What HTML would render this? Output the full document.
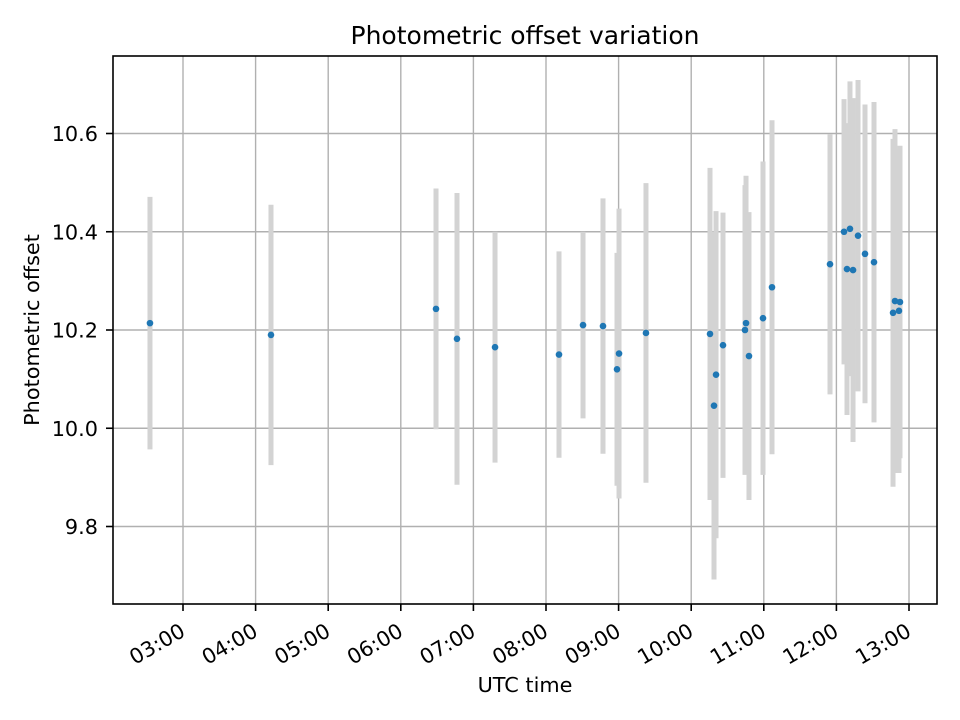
<!DOCTYPE html>
<html><head><meta charset="utf-8"><style>
body{margin:0;background:#fff;}
svg{display:block;font-family:"DejaVu Sans","Liberation Sans",sans-serif;}
</style></head><body>
<svg id="chart" width="960" height="720" viewBox="0 0 960 720" xmlns="http://www.w3.org/2000/svg">
<rect x="0" y="0" width="960" height="720" fill="#fff"/>
<text x="525" y="44" font-size="25" text-anchor="middle">Photometric offset variation</text>
<text x="525" y="692" font-size="20.8" text-anchor="middle">UTC time</text>
<text x="0" y="0" font-size="20.8" text-anchor="middle" transform="translate(39,330) rotate(-90)">Photometric offset</text>
<g id="grid"></g><g id="errs"></g><g id="pts"></g><g id="axes"></g>
</svg>
<script>
const times = [2.545,4.212,6.485,6.774,7.298,8.179,8.51,8.785,8.978,9.006,9.377,10.259,10.314,10.342,10.438,10.741,10.755,10.796,10.989,11.113,11.912,12.105,12.146,12.187,12.229,12.298,12.394,12.518,12.78,12.807,12.862,12.876];
const offsets = [10.214,10.19,10.243,10.182,10.165,10.15,10.21,10.208,10.12,10.152,10.194,10.192,10.046,10.109,10.169,10.2,10.214,10.147,10.224,10.287,10.334,10.4,10.324,10.406,10.322,10.392,10.355,10.338,10.235,10.259,10.239,10.257];
const errors = [0.257,0.265,0.245,0.297,0.235,0.21,0.19,0.26,0.237,0.295,0.305,0.338,0.354,0.333,0.27,0.295,0.3,0.293,0.319,0.34,0.265,0.27,0.297,0.3,0.35,0.317,0.304,0.326,0.354,0.35,0.33,0.318];
const xTickHours = [3,4,5,6,7,8,9,10,11,12,13];
const xTickLabels = ["03:00","04:00","05:00","06:00","07:00","08:00","09:00","10:00","11:00","12:00","13:00"];
const yTicks = [9.8,10.0,10.2,10.4,10.6];
const yTickLabels = ["9.8","10.0","10.2","10.4","10.6"];

const L=113,R=937,T=56,B=604;
const xs=h=>183+(h-3)*72.6;
const ys=v=>330-(v-10.2)*491.25;
const NS="http://www.w3.org/2000/svg";
function mk(tag,attrs,parent,txt){const e=document.createElementNS(NS,tag);for(const k in attrs)e.setAttribute(k,attrs[k]);if(txt!==undefined)e.textContent=txt;parent.appendChild(e);return e;}
const grid=document.getElementById('grid'),errs=document.getElementById('errs'),pts=document.getElementById('pts'),axes=document.getElementById('axes');
xTickHours.forEach((h,i)=>{
  const x=xs(h);
  const g=mk('line',{x1:x,x2:x,y1:T,y2:B,stroke:'#b0b0b0','stroke-width':1.4},grid);
  
  
  const t=mk('line',{x1:x,x2:x,y1:B,y2:B+7,stroke:'#000','stroke-width':1.6},axes);
  
  
  const lb=mk('text',{x:0,y:0,'font-size':20.8,'text-anchor':'end',transform:`translate(${x-4},${B+18}) rotate(-30)`,'dominant-baseline':'hanging'},axes,xTickLabels[i]);
  
  
});
yTicks.forEach((v,i)=>{
  const y=ys(v);
  const g=mk('line',{x1:L,x2:R,y1:y,y2:y,stroke:'#b0b0b0','stroke-width':1.4},grid);
  
  
  const t=mk('line',{x1:L-7,x2:L,y1:y,y2:y,stroke:'#000','stroke-width':1.6},axes);
  
  
  const lb=mk('text',{x:L-15,y:y+7.5,'font-size':20.8,'text-anchor':'end'},axes,yTickLabels[i]);
  
  
});
times.forEach((h,i)=>{
  const x=xs(h);
  const e=mk('line',{x1:x,x2:x,y1:ys(offsets[i]+errors[i]),y2:ys(offsets[i]-errors[i]),stroke:'#d3d3d3','stroke-width':5},errs);
  
  
  const c=mk('circle',{cx:x,cy:ys(offsets[i]),r:3.3,fill:'#1f77b4'},pts);
  
  
});
const fr=mk('rect',{x:L,y:T,width:R-L,height:B-T,fill:'none',stroke:'#000','stroke-width':1.6},axes);


</script>
</body></html>
